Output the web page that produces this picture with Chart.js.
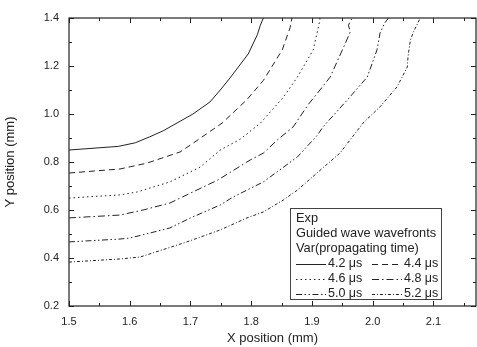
<!DOCTYPE html>
<html>
<head>
<meta charset="utf-8">
<script src="https://cdn.jsdelivr.net/npm/chart.js@4.4.1/dist/chart.umd.min.js"></script>
<style>
  html, body { margin:0; padding:0; background:#fff; }
  #wrap { width:477px; height:347px; }
</style>
</head>
<body>
<div id="wrap"><canvas id="waveChart"></canvas></div>
<script>
// wavefront curves, [x, y] in mm
const t42 = [[1.5,0.85],[1.581,0.865],[1.609,0.88],[1.633,0.905],[1.655,0.93],[1.704,1.0],[1.732,1.05],[1.749,1.1],[1.765,1.15],[1.78,1.2],[1.795,1.25],[1.81,1.33],[1.815,1.37],[1.82,1.4]];
const t44 = [[1.5,0.754],[1.584,0.771],[1.628,0.795],[1.683,0.842],[1.70,0.871],[1.752,0.962],[1.793,1.06],[1.82,1.14],[1.851,1.267],[1.864,1.36],[1.867,1.4]];
const t46 = [[1.5,0.65],[1.584,0.663],[1.612,0.675],[1.666,0.717],[1.716,0.779],[1.749,0.85],[1.782,0.895],[1.815,0.962],[1.853,1.07],[1.876,1.154],[1.902,1.267],[1.913,1.39],[1.913,1.4]];
const t48 = [[1.5,0.567],[1.584,0.579],[1.622,0.6],[1.666,0.629],[1.745,0.725],[1.798,0.808],[1.82,0.837],[1.843,0.892],[1.869,0.946],[1.894,1.04],[1.909,1.087],[1.93,1.154],[1.955,1.295],[1.963,1.342],[1.96,1.37],[1.966,1.4]];
const t50 = [[1.5,0.467],[1.584,0.479],[1.6,0.483],[1.666,0.525],[1.70,0.567],[1.749,0.621],[1.77,0.654],[1.82,0.717],[1.876,0.821],[1.909,0.912],[1.918,0.946],[1.958,1.058],[1.991,1.154],[2.007,1.267],[2.012,1.337],[2.02,1.38],[2.026,1.4]];
const t52 = [[1.5,0.383],[1.584,0.396],[1.617,0.404],[1.694,0.467],[1.749,0.517],[1.793,0.567],[1.82,0.592],[1.853,0.642],[1.876,0.683],[1.91,0.758],[1.946,0.837],[1.984,0.962],[2.012,1.03],[2.04,1.113],[2.057,1.196],[2.058,1.237],[2.062,1.308],[2.067,1.342],[2.075,1.383],[2.078,1.4]];

const seriesNames = ["4.2 \u03BCs","4.4 \u03BCs","4.6 \u03BCs","4.8 \u03BCs","5.0 \u03BCs","5.2 \u03BCs"];
const seriesData = [t42, t44, t46, t48, t50, t52];
const dashes = [[], [6,4], [1.5,3], [7,3,1.5,3], [6,2.5,1.5,2.5,1.5,2.5], [3,2,1,2]];

const legendHead = ["Exp", "Guided wave wavefronts", "Var(propagating time)"];
const xMajor = [1.5,1.6,1.7,1.8,1.9,2.0,2.1];
const yMajor = [0.2,0.4,0.6,0.8,1.0,1.2,1.4];

const ink = "#222";
const font = "Arial, 'Liberation Sans', sans-serif";

// frame, inward ticks on all four sides, and the boxed legend
const framePlugin = {
  id: "frame",
  afterDatasetsDraw(chart) {
    const c = chart.ctx, a = chart.chartArea;
    const xs = chart.scales.x, ys = chart.scales.y;
    c.save();
    c.strokeStyle = ink;
    c.lineWidth = 1.2;
    c.setLineDash([]);
    c.strokeRect(a.left, a.top, a.right - a.left, a.bottom - a.top);
    c.lineWidth = 1;
    c.beginPath();
    for (let v = 1.5; v <= 2.17; v += 0.05) {
      const major = Math.abs(v * 10 - Math.round(v * 10)) < 1e-6;
      const len = major ? 5 : 3;
      const px = Math.round(xs.getPixelForValue(v)) + 0.5;
      c.moveTo(px, a.bottom); c.lineTo(px, a.bottom - len);
      c.moveTo(px, a.top); c.lineTo(px, a.top + len);
    }
    for (let v = 0.2; v <= 1.401; v += 0.1) {
      const major = Math.abs(v * 5 - Math.round(v * 5)) < 1e-6;
      const len = major ? 5 : 3;
      const py = Math.round(ys.getPixelForValue(v)) + 0.5;
      c.moveTo(a.left, py); c.lineTo(a.left + len, py);
      c.moveTo(a.right, py); c.lineTo(a.right - len, py);
    }
    c.stroke();

    // legend box
    const bx = 290, by = 208, bw = 151, bh = 91;
    c.fillStyle = "#fff";
    c.fillRect(bx, by, bw, bh);
    c.strokeStyle = "#444";
    c.lineWidth = 1;
    c.strokeRect(bx + 0.5, by + 0.5, bw, bh);
    c.fillStyle = ink;
    c.font = "12.8px " + font;
    c.textBaseline = "middle";
    c.textAlign = "left";
    legendHead.forEach((s, i) => c.fillText(s, 296, 218.5 + i * 15.2));
    c.font = "12.5px " + font;
    seriesNames.forEach((s, i) => {
      const col = i % 2, row = Math.floor(i / 2);
      const x0 = col === 0 ? 296 : 372;
      const y = 264 + row * 15;
      c.strokeStyle = ink;
      c.lineWidth = 1;
      c.setLineDash(dashes[i]);
      c.beginPath();
      c.moveTo(x0, y + 0.5); c.lineTo(x0 + 30, y + 0.5);
      c.stroke();
      c.setLineDash([]);
      c.fillText(s, x0 + 32, y);
    });
    c.restore();
  }
};

new Chart(document.getElementById("waveChart"), {
  type: "scatter",
  data: {
    datasets: seriesData.map((d, i) => ({
      label: seriesNames[i],
      data: d.map(p => ({ x: p[0], y: p[1] })),
      showLine: true,
      borderColor: ink,
      borderWidth: 1,
      borderDash: dashes[i],
      pointRadius: 0,
      tension: 0,
      fill: false
    }))
  },
  options: {
    responsive: true,
    maintainAspectRatio: false,
    animation: false,
    layout: { padding: { left: 0, top: 18, right: 1, bottom: 0 } },
    plugins: {
      legend: { display: false },
      tooltip: { enabled: false }
    },
    scales: {
      x: {
        type: "linear",
        min: 1.5,
        max: 2.17,
        afterFit(s) { s.height = 41; },
        afterBuildTicks(s) { s.ticks = xMajor.map(v => ({ value: v })); },
        grid: { display: false, drawTicks: false },
        border: { display: false },
        ticks: {
          color: ink,
          padding: 9,
          font: { family: font, size: 11 },
          callback: v => v.toFixed(1)
        },
        title: {
          display: true,
          text: "X position (mm)",
          color: ink,
          font: { family: font, size: 13 },
          padding: { top: 0, bottom: 1 }
        }
      },
      y: {
        type: "linear",
        min: 0.2,
        max: 1.4,
        afterFit(s) { s.width = 69; },
        afterBuildTicks(s) { s.ticks = yMajor.map(v => ({ value: v })); },
        grid: { display: false, drawTicks: false },
        border: { display: false },
        ticks: {
          color: ink,
          padding: 10,
          font: { family: font, size: 11 },
          callback: v => v.toFixed(1)
        },
        title: {
          display: true,
          text: "Y position (mm)",
          color: ink,
          font: { family: font, size: 13 },
          padding: { top: 3, bottom: 0 }
        }
      }
    }
  },
  plugins: [framePlugin]
});
</script>
</body>
</html>
